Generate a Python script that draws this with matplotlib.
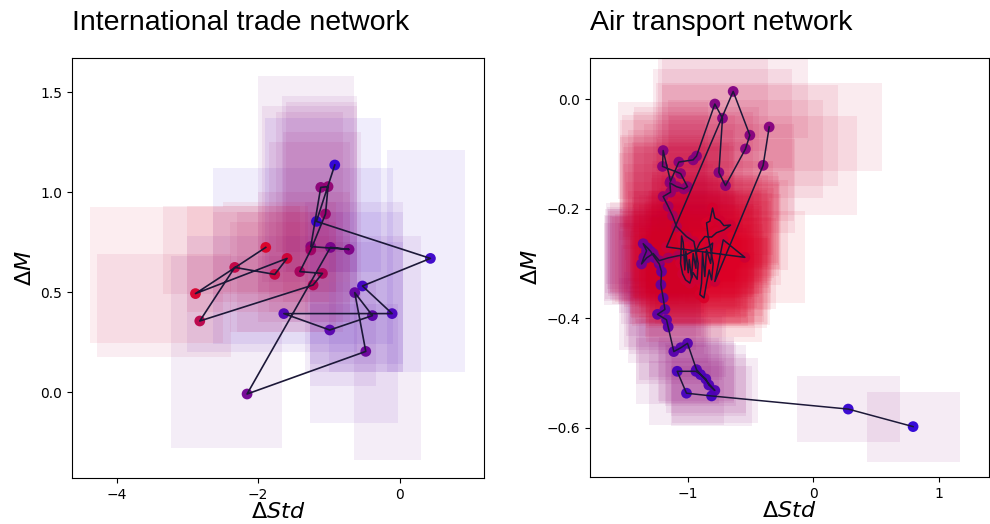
import matplotlib
matplotlib.use("Agg")
import matplotlib.pyplot as plt
import numpy as np
from matplotlib.colors import LinearSegmentedColormap
from matplotlib.patches import Rectangle

# ---------------- International trade network (time ordered) ----------------
trade_std = [-0.918, -1.177, 0.433, -0.527, -0.108, -1.638, -0.989, -0.386, -0.636,
             -0.480, -2.157, -0.979, -0.716, -1.257, -1.116, -1.013, -1.049, -1.257,
             -1.412, -1.092, -1.224, -2.825, -2.331, -1.766, -1.592, -2.886, -1.893]
trade_m = [1.135, 0.853, 0.668, 0.530, 0.392, 0.392, 0.310, 0.382, 0.497,
           0.203, -0.010, 0.723, 0.713, 0.727, 1.023, 1.027, 0.890, 0.710,
           0.602, 0.593, 0.535, 0.355, 0.623, 0.588, 0.668, 0.492, 0.723]
trade_box_xlo = [-1.90, -2.64, -0.18, -1.27, -1.00, -3.00, -1.27, -1.27, -1.34,
                 -0.64, -3.23, -2.00, -1.66, -1.95, -1.60, -1.75, -1.65, -1.85,
                 -2.30, -2.00, -2.40, -4.28, -3.34, -2.64, -2.50, -4.38, -3.00]
trade_box_xhi = [-0.26, -0.10, 0.92, 0.05, 0.05, -0.60, -0.02, -0.33, 0.05,
                 0.30, -1.67, -0.64, -0.61, -0.60, -0.60, -0.80, -0.55, -0.70,
                 -0.80, -0.70, -0.90, -2.38, -1.41, -1.00, -0.90, -2.50, -1.30]
trade_box_ylo = [0.60, 0.24, 0.10, 0.14, 0.10, 0.20, -0.157, 0.03, 0.10,
                 -0.34, -0.282, 0.50, 0.35, 0.55, 0.60, 0.70, 0.45, 0.40,
                 0.30, 0.35, 0.30, 0.177, 0.49, 0.45, 0.50, 0.243, 0.40]
trade_box_yhi = [1.37, 1.12, 1.21, 0.90, 0.75, 0.78, 0.44, 0.55, 0.95,
                 0.78, 0.68, 1.58, 1.48, 1.43, 1.45, 1.40, 1.30, 1.25,
                 0.90, 1.00, 0.85, 0.69, 0.93, 0.90, 0.95, 0.927, 0.93]

# ---------------- Air transport network ----------------
air_std = [0.795, 0.278, -0.811, -1.011, -1.085, -0.936, -0.899, -0.857, -0.833, -0.785,
           -0.931, -1.003, -1.056, -1.112, -1.157, -1.170, -1.242, -1.183,
           -1.197, -1.215, -1.210, -1.228, -1.263, -1.297, -1.321, -1.356, -1.329, -1.351,
           -1.369, -1.329, -1.276, -1.228,
           -1.157, -1.077, -1.011, -0.958, -0.891, -0.838,
           -0.803, -0.819, -0.851, -0.865, -0.883, -0.891, -0.904, -0.872, -0.851, -0.830,
           -0.811, -0.798, -0.838, -0.851, -0.825, -0.803, -0.785, -0.745, -0.713, -0.660,
           -0.713, -0.772, -0.811, -0.865, -0.904, -0.931, -0.936, -0.958, -0.971, -0.989,
           -0.997, -1.016, -1.024, -1.037, -1.050, -1.058, -1.042, -1.019, -0.984, -0.958,
           -0.926, -0.918, -0.952, -1.011,
           -1.090, -1.122, -1.157, -1.197, -1.138, -1.143, -1.090, -1.032, -1.003, -1.058,
           -1.202, -1.197, -1.138, -1.072, -0.958, -0.931,
           -0.785, -0.724, -0.753, -0.700, -0.541, -0.506, -0.639,
           -1.170, -0.546, -0.718, -0.785, -0.400, -0.352]
air_m = [-0.598, -0.566, -0.542, -0.537, -0.497, -0.497, -0.503, -0.511, -0.522, -0.532,
         -0.494, -0.446, -0.454, -0.461, -0.416, -0.403, -0.393, -0.384,
         -0.363, -0.339, -0.315, -0.301, -0.290, -0.278, -0.272, -0.264, -0.277, -0.289,
         -0.301, -0.290, -0.282, -0.295,
         -0.290, -0.286, -0.284, -0.277, -0.274, -0.270,
         -0.263, -0.300, -0.275, -0.324, -0.281, -0.336, -0.357, -0.363, -0.336, -0.312,
         -0.330, -0.300, -0.251, -0.226, -0.223, -0.199, -0.217, -0.222, -0.231, -0.230,
         -0.239, -0.244, -0.252, -0.251, -0.262, -0.275, -0.309, -0.282, -0.327, -0.293,
         -0.317, -0.278, -0.312, -0.262, -0.250, -0.300, -0.319, -0.330, -0.336, -0.317,
         -0.329, -0.300, -0.260, -0.251,
         -0.233, -0.213, -0.196, -0.178, -0.170, -0.153, -0.160, -0.164, -0.160, -0.136,
         -0.123, -0.094, -0.150, -0.115, -0.111, -0.104,
         -0.009, -0.035, -0.134, -0.158, -0.091, -0.066, 0.014,
         -0.270, -0.289, -0.257, -0.333, -0.121, -0.051]
air_colour = [0.00, 0.04, 0.12, 0.14, 0.15, 0.16, 0.17, 0.18, 0.19, 0.20,
              0.21, 0.22, 0.23, 0.24, 0.25, 0.26, 0.27, 0.28,
              0.30, 0.31, 0.32, 0.33, 0.34, 0.35, 0.36, 0.37, 0.37, 0.38,
              0.38, 0.40, 0.45, 0.55,
              0.70, 0.75, 0.80, 0.85, 0.88, 0.90,
              0.92, 0.93, 0.94, 0.95, 0.96, 0.97, 0.97, 0.98, 0.98, 0.99,
              0.99, 1.00, 1.00, 0.98, 0.97, 0.95, 0.95, 0.94, 0.93, 0.92,
              0.93, 0.95, 0.97, 0.98, 0.99, 1.00, 1.00, 1.00, 0.99, 0.99,
              0.98, 0.98, 0.97, 0.96, 0.95, 0.94, 0.93, 0.93, 0.92, 0.92,
              0.91, 0.90, 0.88, 0.85,
              0.75, 0.70, 0.65, 0.62, 0.60, 0.58, 0.60, 0.58, 0.56, 0.55,
              0.52, 0.50, 0.52, 0.52, 0.50, 0.50,
              0.48, 0.48, 0.50, 0.52, 0.50, 0.50, 0.48,
              0.90, 0.92, 0.92, 0.90, 0.52, 0.50]
air_box_sx = [0.37, 0.41, 0.32, 0.30, 0.33, 0.30, 0.28, 0.32, 0.30, 0.34,
              0.30, 0.31, 0.33, 0.30, 0.32, 0.30, 0.31, 0.33,
              0.30, 0.32, 0.34, 0.33, 0.36, 0.34, 0.32, 0.30, 0.33, 0.31,
              0.30, 0.34, 0.36, 0.38,
              0.42, 0.45, 0.44, 0.48, 0.46, 0.50,
              0.45, 0.48, 0.44, 0.47, 0.45, 0.42, 0.44, 0.46, 0.48, 0.43,
              0.45, 0.50, 0.47, 0.44, 0.46, 0.48, 0.50, 0.47, 0.45, 0.46,
              0.44, 0.46, 0.48, 0.45, 0.43, 0.46, 0.44, 0.47, 0.45, 0.43,
              0.46, 0.42, 0.44, 0.41, 0.43, 0.45, 0.42, 0.44, 0.46, 0.43,
              0.45, 0.47, 0.44, 0.42,
              0.40, 0.38, 0.36, 0.35, 0.38, 0.40, 0.42, 0.40, 0.44, 0.42,
              0.34, 0.36, 0.40, 0.45, 0.48, 0.50,
              0.42, 0.55, 0.60, 0.55, 0.62, 0.70, 0.60,
              0.45, 0.48, 0.46, 0.44, 0.75, 0.90]
air_box_sy = [0.064, 0.060, 0.055, 0.058, 0.060, 0.055, 0.058, 0.062, 0.057, 0.060,
              0.060, 0.062, 0.058, 0.060, 0.065, 0.062, 0.066, 0.068,
              0.070, 0.072, 0.075, 0.074, 0.076, 0.078, 0.075, 0.074, 0.077, 0.076,
              0.075, 0.078, 0.078, 0.080,
              0.080, 0.082, 0.080, 0.085, 0.082, 0.084,
              0.082, 0.085, 0.080, 0.083, 0.081, 0.079, 0.078, 0.080, 0.082, 0.084,
              0.080, 0.083, 0.085, 0.082, 0.084, 0.086, 0.083, 0.081, 0.080, 0.082,
              0.084, 0.082, 0.080, 0.083, 0.085, 0.082, 0.080, 0.083, 0.081, 0.084,
              0.082, 0.085, 0.080, 0.083, 0.082, 0.080, 0.078, 0.080, 0.079, 0.081,
              0.080, 0.082, 0.084, 0.083,
              0.082, 0.080, 0.078, 0.080, 0.082, 0.084, 0.080, 0.078, 0.082, 0.080,
              0.085, 0.088, 0.084, 0.086, 0.088, 0.090,
              0.085, 0.090, 0.088, 0.086, 0.090, 0.092, 0.085,
              0.082, 0.084, 0.083, 0.080, 0.090, 0.080]

cmap = LinearSegmentedColormap.from_list("blue_red", ["#2c00d6", "#dc0026"])
line_color = "#1c1838"

fig = plt.figure(figsize=(9.9, 5.24), dpi=100)
ax1 = fig.add_axes([72 / 990, 46 / 524, 412 / 990, 420 / 524])
ax2 = fig.add_axes([590 / 990, 47 / 524, 399 / 990, 419 / 524])

# left panel
n1 = len(trade_std)
cols1 = [cmap(i / (n1 - 1)) for i in range(n1)]
for i in range(n1):
    ax1.add_patch(Rectangle((trade_box_xlo[i], trade_box_ylo[i]),
                            trade_box_xhi[i] - trade_box_xlo[i],
                            trade_box_yhi[i] - trade_box_ylo[i],
                            facecolor=cols1[i], edgecolor="none", alpha=0.07, zorder=1))
ax1.scatter(trade_std, trade_m, c=cols1, s=60, edgecolors="none", alpha=0.95, zorder=3)
ax1.plot(trade_std, trade_m, color=line_color, lw=1.2, zorder=4)
ax1.set_xlim(-4.63, 1.19)
ax1.set_ylim(-0.43, 1.67)
ax1.set_xticks([-4, -2, 0])
ax1.set_yticks([0.0, 0.5, 1.0, 1.5])

# right panel
cols2 = [cmap(v) for v in air_colour]
box_shade = np.interp(air_colour, [0.0, 0.4, 0.5, 0.8, 1.0], [0.5, 0.6, 0.9, 1.0, 1.0])
box_cols2 = [cmap(v) for v in box_shade]
for i in range(len(air_std)):
    ax2.add_patch(Rectangle((air_std[i] - air_box_sx[i], air_m[i] - air_box_sy[i]),
                            2 * air_box_sx[i], 2 * air_box_sy[i],
                            facecolor=box_cols2[i], edgecolor="none", alpha=0.08, zorder=1))
ax2.scatter(air_std, air_m, c=cols2, s=60, edgecolors="none", alpha=0.95, zorder=3)
ax2.plot(air_std, air_m, color=line_color, lw=1.1, zorder=4)
ax2.set_xlim(-1.78, 1.40)
ax2.set_ylim(-0.69, 0.075)
ax2.set_xticks([-1, 0, 1])
ax2.set_yticks([0.0, -0.2, -0.4, -0.6])

for ax, title in [(ax1, "International trade network"), (ax2, "Air transport network")]:
    ax.set_title(title, loc="left", fontsize=20.5, pad=20, fontfamily="Liberation Sans")
    ax.set_xlabel(r"$\Delta Std$", fontsize=16, labelpad=0)
    ax.set_ylabel(r"$\Delta M$", fontsize=16)
    ax.tick_params(labelsize=10)

fig.savefig("out.png", dpi=100)
